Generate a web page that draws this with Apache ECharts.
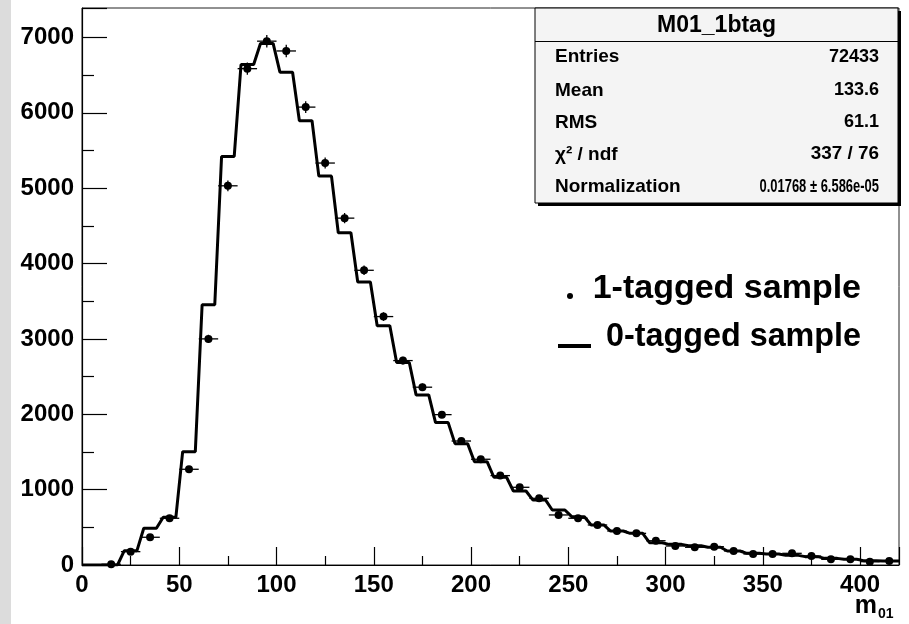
<!DOCTYPE html>
<html><head><meta charset="utf-8">
<script src="https://cdn.jsdelivr.net/npm/echarts@6/dist/echarts.min.js"></script>
<style>html,body{margin:0;padding:0;background:#fff}#c{width:909px;height:624px}</style>
</head><body><div id="c"></div>
<script>
// ---- data ----
const binLow = [0,10,20,30,40,50,60,70,80,90,100,110,120,130,140,150,160,170,180,190,200,210,220,230,240,250,260,270,280,290,300,310,320,330,340,350,360,370,380,390,400,410];
const binWidth = 10;
const zeroTagged = [0,0,190,487,633,1504,3453,5420,6640,6920,6538,5894,5160,4408,3755,3173,2686,2257,1889,1610,1371,1164,982,863,730,641,531,451,420,296,274,256,235,186,155,146,128,111,88,75,58,53];
const oneTagged = [null,10,177,368,620,1270,3000,5031,6585,6950,6820,6075,5333,4602,3910,3296,2712,2359,1995,1645,1403,1186,1031,885,664,620,531,451,420,322,252,235,243,186,146,146,155,119,75,75,44,53];
const statsTitle = 'M01_1btag';
const statsLabels = ['Entries','Mean','RMS','\u03C7\u00B2 / ndf','Normalization'];
const statsValues = ['72433','133.6','61.1','337 / 76','0.01768 \u00B1 6.586e-05'];
const legendLabels = ['1-tagged sample','0-tagged sample'];
const axisTitle = 'm';
const axisTitleSub = '01';

// ---- build ----
const slant = 1.75;
const linePts = [];
binLow.forEach((lo, i) => {
  const v = zeroTagged[i];
  const a = i === 0 ? lo : lo + slant;
  const b = i === binLow.length - 1 ? lo + binWidth : lo + binWidth - slant;
  linePts.push([a, v], [b, v]);
});
const pointData = [];
binLow.forEach((lo, i) => { if (oneTagged[i] !== null) pointData.push([lo, lo + binWidth, oneTagged[i]]); });

const FONT = '"Liberation Sans", Arial, Helvetica, sans-serif';
const chart = echarts.init(document.getElementById('c'), null, {renderer: 'canvas'});

const graphics = [];
graphics.push({type: 'rect', z: -10, shape: {x: 0, y: 0, width: 11, height: 624}, style: {fill: '#dcdcdc'}});
// stats box
const bx = 535, by = 8, bw = 363, bh = 195;
graphics.push({type: 'rect', z: 50, shape: {x: bx + 3, y: by + 3, width: bw, height: bh}, style: {fill: '#000'}});
graphics.push({type: 'rect', z: 51, shape: {x: bx, y: by, width: bw, height: bh}, style: {fill: '#f4f4f4', stroke: '#000', lineWidth: 1}});
graphics.push({type: 'line', z: 52, shape: {x1: bx, y1: 41.5, x2: bx + bw, y2: 41.5}, style: {stroke: '#000', lineWidth: 1}});
graphics.push({type: 'text', z: 53, x: bx + bw / 2, y: 26, style: {text: statsTitle, font: 'bold 23px ' + FONT, fill: '#000', textAlign: 'center', textVerticalAlign: 'middle'}});
const rowY = [57, 90.5, 122.5, 154.5, 187];
const valueScale = [1, 1, 1, 1.05, 0.72];
statsLabels.forEach((t, i) => {
  graphics.push({type: 'text', z: 53, x: 555, y: rowY[i], style: {text: t, font: 'bold 19px ' + FONT, fill: '#000', textAlign: 'left', textVerticalAlign: 'middle'}});
  graphics.push({type: 'text', z: 53, x: 879, y: rowY[i], scaleX: valueScale[i], style: {text: statsValues[i], font: 'bold 18px ' + FONT, fill: '#000', textAlign: 'right', textVerticalAlign: 'middle'}});
});
// legend
graphics.push({type: 'circle', z: 40, shape: {cx: 570, cy: 296, r: 3}, style: {fill: '#000'}});
graphics.push({type: 'line', z: 40, shape: {x1: 558, y1: 346, x2: 591, y2: 346}, style: {stroke: '#000', lineWidth: 4}});
graphics.push({type: 'text', z: 40, x: 861, y: 289, style: {text: legendLabels[0], font: 'bold 34px ' + FONT, fill: '#000', textAlign: 'right', textVerticalAlign: 'middle'}});
graphics.push({type: 'text', z: 40, x: 861, y: 337, scaleX: 0.95, style: {text: legendLabels[1], font: 'bold 34px ' + FONT, fill: '#000', textAlign: 'right', textVerticalAlign: 'middle'}});
// axis title
graphics.push({type: 'text', z: 40, x: 877, y: 606, style: {text: axisTitle, font: 'bold 25px ' + FONT, fill: '#000', textAlign: 'right', textVerticalAlign: 'middle'}});
graphics.push({type: 'text', z: 40, x: 878, y: 614, style: {text: axisTitleSub, font: 'bold 14px ' + FONT, fill: '#000', textAlign: 'left', textVerticalAlign: 'middle'}});

chart.setOption({
  animation: false,
  backgroundColor: '#fff',
  grid: {left: 82, right: 10, top: 8, bottom: 59, show: true, borderColor: '#222', borderWidth: 1, backgroundColor: 'transparent'},
  xAxis: {
    type: 'value', min: 0, max: 420, interval: 50,
    axisLine: {show: true, onZero: false, lineStyle: {color: '#000', width: 1.2}},
    axisTick: {show: true, inside: true, length: 18, lineStyle: {color: '#000', width: 1.2}},
    minorTick: {show: true, splitNumber: 2, length: 9, lineStyle: {color: '#000', width: 1.2}},
    splitLine: {show: false},
    axisLabel: {color: '#000', fontSize: 24, fontWeight: 'bold', fontFamily: FONT, margin: 8, showMaxLabel: false, formatter: v => String(v)}
  },
  yAxis: {
    type: 'value', min: 0, max: 7390, interval: 1000,
    axisLine: {show: true, onZero: false, lineStyle: {color: '#000', width: 1.2}},
    axisTick: {show: true, inside: true, length: 25, lineStyle: {color: '#000', width: 1.2}},
    minorTick: {show: true, splitNumber: 2, length: 12, lineStyle: {color: '#000', width: 1.2}},
    splitLine: {show: false},
    axisLabel: {color: '#000', fontSize: 24, fontWeight: 'bold', fontFamily: FONT, margin: 8, showMaxLabel: false, formatter: v => String(v)}
  },
  series: [
    {type: 'line', data: linePts, symbol: 'none', lineStyle: {color: '#000', width: 3}, z: 3},
    {type: 'custom', data: pointData, z: 4,
      renderItem(params, api) {
        const lo = api.value(0), hi = api.value(1), v = api.value(2);
        const mid = (lo + hi) / 2;
        const c = api.coord([mid, v]);
        const l = api.coord([lo, v]), r = api.coord([hi, v]);
        const e = Math.sqrt(v);
        const t = api.coord([mid, v + e]), b = api.coord([mid, Math.max(0, v - e)]);
        return {type: 'group', children: [
          {type: 'line', shape: {x1: l[0], y1: c[1], x2: r[0], y2: c[1]}, style: {stroke: '#000', lineWidth: 1.3}},
          {type: 'line', shape: {x1: c[0], y1: t[1], x2: c[0], y2: b[1]}, style: {stroke: '#000', lineWidth: 1.3}},
          {type: 'circle', shape: {cx: c[0], cy: c[1], r: 4}, style: {fill: '#000'}}
        ]};
      }
    }
  ],
  graphic: graphics
});
</script></body></html>
